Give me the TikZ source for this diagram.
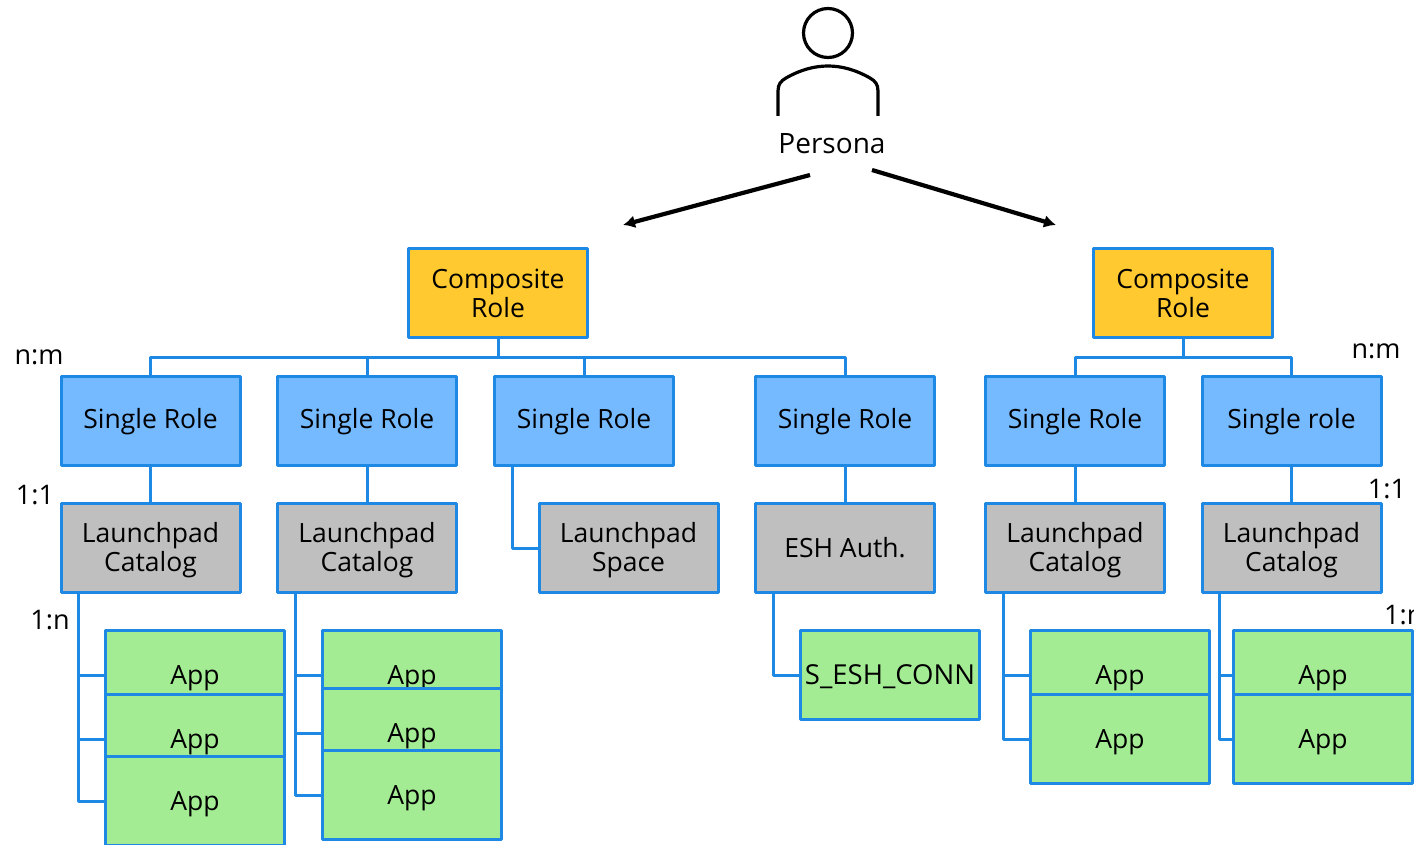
\documentclass[tikz,border=0pt]{standalone}
\usepackage{fontspec}
\setmainfont{Open Sans}
\usetikzlibrary{arrows.meta}
\definecolor{edgeblue}{HTML}{1E88E5}
\definecolor{rolegold}{HTML}{FFC92F}
\definecolor{roleblue}{HTML}{75B9FF}
\definecolor{catgray}{HTML}{BFBFBF}
\definecolor{appgreen}{HTML}{A4EC94}
\tikzset{
  x=1pt,y=-1pt,
  box/.style={draw=edgeblue,line width=3pt,minimum width=179pt,minimum height=89pt,inner sep=0pt,align=center,font=\fontsize{26.5}{29}\selectfont,line join=round,text=black},
  comp/.style={box,fill=rolegold},
  single/.style={box,fill=roleblue,text height=21pt,text depth=5pt},
  cat/.style={box,fill=catgray},
  twoline/.style={text height=53pt},
  app/.style={box,fill=appgreen,text height=22pt,text depth=4pt},
  link/.style={draw=edgeblue,line width=3pt,line join=round},
  arr/.style={draw=black,line width=4.2pt,-{Latex[length=12pt,width=13pt]}},
  lbl/.style={inner sep=0pt,font=\fontsize{27}{29}\selectfont,text=black},
  icon/.style={draw=black,line width=3.2pt},
}
\begin{document}
\begin{tikzpicture}
\useasboundingbox (0,0) rectangle (1414,845);
% person
\node[icon,circle,minimum size=49pt,inner sep=0pt] (head) at (828,33) {};
\draw[icon] (778,116) -- (778,91) .. controls (778,84) and (781,81) .. (786,78) .. controls (800,70) and (814,66) .. (828,66) .. controls (842,66) and (856,70) .. (870,78) .. controls (875,81) and (878,84) .. (878,91) -- (878,116);
\node[lbl,font=\fontsize{28}{29}\selectfont] (persona) at (832,144) {Persona};
\coordinate (pl) at (810,175);
\coordinate (pr) at (872,170);
\coordinate (tl) at (623,225);
\coordinate (tr) at (1056,225);
\draw[arr] (pl) -- (tl);
\draw[arr] (pr) -- (tr);
% composite
\node[comp] (c1) at (498,293) {Composite\\Role};
\node[comp] (c2) at (1183,293) {Composite\\Role};
% single
\node[single] (s1) at (150.5,420.5) {Single Role};
\node[single] (s2) at (367,420.5) {Single Role};
\node[single] (s3) at (584,420.5) {Single Role};
\node[single] (s4) at (845,420.5) {Single Role};
\node[single] (s5) at (1075,420.5) {Single Role};
\node[single] (s6) at (1291.5,420.5) {Single role};
% second level
\node[cat,twoline] (g1) at (150.5,548) {Launchpad\\Catalog};
\node[cat,twoline] (g2) at (367,548) {Launchpad\\Catalog};
\node[cat,twoline] (g3) at (628.5,548) {Launchpad\\Space};
\node[cat] (g4) at (845,548) {ESH Auth.};
\node[cat,twoline] (g5) at (1075,548) {Launchpad\\Catalog};
\node[cat,twoline] (g6) at (1291.5,548) {Launchpad\\Catalog};
% bus
\coordinate (b1) at (498,357);
\coordinate (b2) at (1183,357);
\draw[link] (c1.south) -- (b1);
\draw[link] (s1.north) |- (b1);
\draw[link] (s2.north) |- (b1);
\draw[link] (s3.north) |- (b1);
\draw[link] (s4.north) |- (b1);
\draw[link] (c2.south) -- (b2);
\draw[link] (s5.north) |- (b2);
\draw[link] (s6.north) |- (b2);
\draw[link] (s1) -- (g1);
\draw[link] (s2) -- (g2);
\draw[link] (s4) -- (g4);
\draw[link] (s5) -- (g5);
\draw[link] (s6) -- (g6);
\draw[link] ([xshift=19pt]s3.south west) |- (g3.west);
% apps
\node[app] (a1) at (195,675) {App};
\node[app] (a2) at (195,739) {App};
\node[app] (a3) at (195,801) {App};
\node[app] (d1) at (412,675) {App};
\node[app] (d2) at (412,733) {App};
\node[app] (d3) at (412,795) {App};
\node[app,font=\fontsize{27.5}{29}\selectfont] (e1) at (890,675) {S\_ESH\_CONN};
\node[app] (f1) at (1120,675) {App};
\node[app] (f2) at (1120,739) {App};
\node[app] (h1) at (1323,675) {App};
\node[app] (h2) at (1323,739) {App};
% catalog to app
\draw[link] ([xshift=19pt]g1.south west) |- (a1.west);
\draw[link] ([xshift=19pt]g1.south west) |- (a2.west);
\draw[link] ([xshift=19pt]g1.south west) |- (a3.west);
\draw[link] ([xshift=19pt]g2.south west) |- (d1.west);
\draw[link] ([xshift=19pt]g2.south west) |- (d2.west);
\draw[link] ([xshift=19pt]g2.south west) |- (d3.west);
\draw[link] ([xshift=19pt]g4.south west) |- (e1.west);
\draw[link] ([xshift=19pt]g5.south west) |- (f1.west);
\draw[link] ([xshift=19pt]g5.south west) |- (f2.west);
\draw[link] ([xshift=19pt]g6.south west) |- (h1.west);
\draw[link] ([xshift=19pt]g6.south west) |- (h2.west);
% labels
\node[lbl] (l1) at (39,357) {n:m};
\node[lbl] (l2) at (35,495) {1:1};
\node[lbl] (l3) at (50,620) {1:n};
\node[lbl] (l4) at (1376,351) {n:m};
\node[lbl] (l5) at (1387,489) {1:1};
\node[lbl,anchor=west] (l6) at (1384,615) {1:n};
\end{tikzpicture}
\end{document}
